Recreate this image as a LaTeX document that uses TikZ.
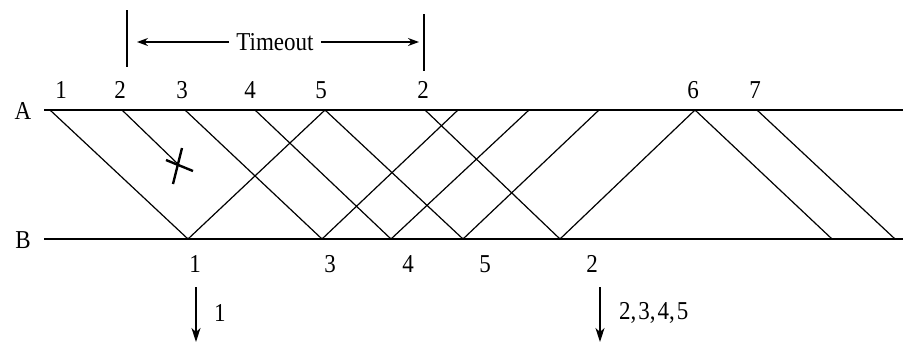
\documentclass[tikz,border=0pt]{standalone}
\usepackage{fontspec}
\setmainfont{Liberation Serif}
\usetikzlibrary{arrows.meta}
\newcommand\tallt[1]{\scalebox{1}[1.12]{#1}}
\begin{document}
\begin{tikzpicture}[x=1pt,y=-1pt,
  lbl/.style={inner sep=0pt,font=\fontsize{23}{27}\selectfont},
  axis/.style={line width=1.5pt},
  msg/.style={line width=1.2pt},
  cross/.style={line width=2.4pt},
  bar/.style={line width=1.2pt},
  tarrow/.style={line width=1.2pt,-{Stealth[length=11pt,width=8pt]}},
  darrow/.style={line width=1.2pt,-{Stealth[length=14pt,width=9pt,inset=4pt]}}]
\useasboundingbox (0,0) rectangle (903,343);
% timelines
\coordinate (A0) at (44,110); \coordinate (A1) at (903,110);
\coordinate (B0) at (44,239); \coordinate (B1) at (903,239);
\draw[axis] (A0) -- (A1);
\draw[axis] (B0) -- (B1);
\node[lbl] (lA) at (23,111) {\tallt{A}};
\node[lbl] (lB) at (23,240) {\tallt{B}};
% send points on A
\coordinate (s1) at (50,110);
\coordinate (s2) at (122,110);
\coordinate (s3) at (185,110);
\coordinate (s4) at (255,110);
\coordinate (s5) at (325,110);
\coordinate (s2b) at (425,110);
\coordinate (s6) at (695,110);
\coordinate (s7) at (757,110);
% ack arrival points on A
\coordinate (a3) at (458,110);
\coordinate (a4) at (529,110);
\coordinate (a5) at (599,110);
% points on B
\coordinate (r1) at (188,239);
\coordinate (r3) at (322,239);
\coordinate (r4) at (391,239);
\coordinate (r5) at (463,239);
\coordinate (r2) at (560,239);
\coordinate (r6) at (832,239);
\coordinate (r7) at (895,239);
\coordinate (lost) at (180,166);
% data frames
\draw[msg] (s1) -- (r1);
\draw[msg] (s2) -- (lost);
\draw[msg] (s3) -- (r3);
\draw[msg] (s4) -- (r4);
\draw[msg] (s5) -- (r5);
\draw[msg] (s2b) -- (r2);
\draw[msg] (s6) -- (r6);
\draw[msg] (s7) -- (r7);
% acks
\draw[msg] (r1) -- (s5);
\draw[msg] (r3) -- (a3);
\draw[msg] (r4) -- (a4);
\draw[msg] (r5) -- (a5);
\draw[msg] (r2) -- (s6);
% lost mark
\coordinate (x1) at (166,160); \coordinate (x2) at (193,171);
\coordinate (x3) at (182,148); \coordinate (x4) at (173,184);
\draw[cross] (x1) -- (x2);
\draw[cross] (x3) -- (x4);
% top labels
\node[lbl] (t1) at (61,90) {\tallt{1}};
\node[lbl] (t2) at (120,90) {\tallt{2}};
\node[lbl] (t3) at (182,90) {\tallt{3}};
\node[lbl] (t4) at (250,90) {\tallt{4}};
\node[lbl] (t5) at (321,90) {\tallt{5}};
\node[lbl] (t2b) at (423,90) {\tallt{2}};
\node[lbl] (t6) at (693,90) {\tallt{6}};
\node[lbl] (t7) at (755,90) {\tallt{7}};
% timeout
\coordinate (bl0) at (127,10); \coordinate (bl1) at (127,67);
\coordinate (br0) at (424,14); \coordinate (br1) at (424,71);
\draw[bar] (bl0) -- (bl1);
\draw[bar] (br0) -- (br1);
\node[lbl] (to) at (275,42) {\tallt{Timeout}};
\coordinate (tl) at (137,42); \coordinate (tr) at (419,42);
\draw[tarrow] (to.west) ++(-7,0) -- (tl);
\draw[tarrow] (to.east) ++(7,0) -- (tr);
% bottom labels
\node[lbl] (b1) at (195,264) {\tallt{1}};
\node[lbl] (b3) at (330,264) {\tallt{3}};
\node[lbl] (b4) at (408,264) {\tallt{4}};
\node[lbl] (b5) at (485,264) {\tallt{5}};
\node[lbl] (b2) at (592,264) {\tallt{2}};
% delivered
\coordinate (d1a) at (196,287); \coordinate (d1b) at (196,342);
\coordinate (d2a) at (600,287); \coordinate (d2b) at (600,342);
\draw[darrow] (d1a) -- (d1b);
\draw[darrow] (d2a) -- (d2b);
\node[lbl,anchor=west] (o1) at (214,313) {\tallt{1}};
\node[lbl,anchor=west] (o2) at (619,313) {\tallt{2,\kern2pt 3,\kern2pt 4,\kern2pt 5}};
\end{tikzpicture}
\end{document}
